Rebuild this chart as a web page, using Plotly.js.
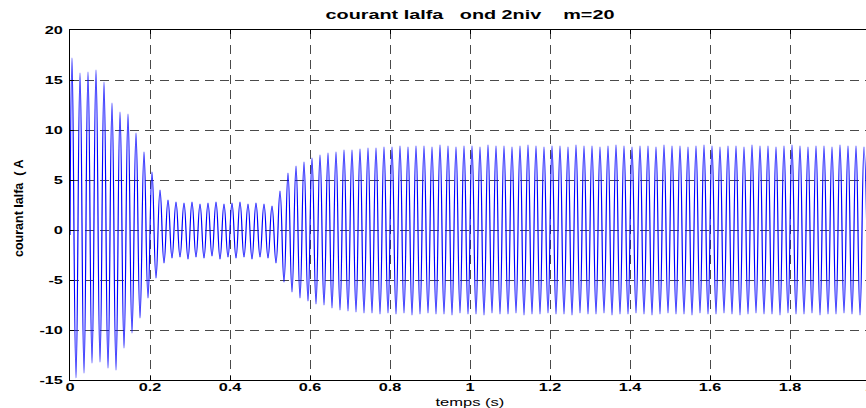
<!DOCTYPE html>
<html>
<head>
<meta charset="utf-8">
<script src="https://cdn.plot.ly/plotly-3.0.1.min.js"></script>
<style>
  html, body { margin: 0; padding: 0; overflow: hidden; background: #fff; }
  #chart { width: 880px; height: 408px; }
</style>
</head>
<body>
<div id="chart"></div>
<script>
// ---- data (positive and negative extremes of each cycle) ----
const startT = [0];
const startV = [-0.5];

const peakT = [
  0.005,0.025,0.045,0.065,0.085,0.105,0.125,0.145,0.165,0.185,
  0.205,0.225,0.245,0.265,0.285,0.305,0.325,0.345,0.365,0.385,
  0.405,0.425,0.445,0.465,0.485,0.505,0.525,0.545,0.565,0.585,
  0.605,0.625,0.645,0.665,0.685,0.705,0.725,0.745,0.765,0.785,
  0.805,0.825,0.845,0.865,0.885,0.905,0.925,0.945,0.965,0.985,
  1.005,1.025,1.045,1.065,1.085,1.105,1.125,1.145,1.165,1.185,
  1.205,1.225,1.245,1.265,1.285,1.305,1.325,1.345,1.365,1.385,
  1.405,1.425,1.445,1.465,1.485,1.505,1.525,1.545,1.565,1.585,
  1.605,1.625,1.645,1.665,1.685,1.705,1.725,1.745,1.765,1.785,
  1.805,1.825,1.845,1.865,1.885,1.905,1.925,1.945,1.965,1.985
];
const peakV = [
  17.2,15.7,15.8,16.0,14.8,12.7,11.8,11.6,9.7,7.8,
  5.8,4.0,3.0,2.8,2.7,2.8,2.6,2.7,2.8,2.6,
  2.7,2.8,2.6,2.7,2.6,2.4,3.9,5.7,6.4,6.8,
  7.2,7.5,7.7,7.8,8.0,8.0,8.1,8.2,8.2,8.3,
  8.3,8.4,8.3,8.4,8.4,8.3,8.5,8.4,8.3,8.4,
  8.4,8.3,8.5,8.4,8.4,8.3,8.4,8.5,8.4,8.3,
  8.4,8.4,8.3,8.5,8.4,8.4,8.3,8.4,8.5,8.4,
  8.3,8.4,8.4,8.3,8.5,8.4,8.4,8.3,8.4,8.5,
  8.4,8.3,8.4,8.4,8.3,8.5,8.4,8.4,8.3,8.4,
  8.5,8.4,8.3,8.4,8.4,8.3,8.5,8.4,8.4,8.3
];
const troughT = [
  0.015,0.035,0.055,0.075,0.095,0.115,0.135,0.155,0.175,0.195,
  0.215,0.235,0.255,0.275,0.295,0.315,0.335,0.355,0.375,0.395,
  0.415,0.435,0.455,0.475,0.495,0.515,0.535,0.555,0.575,0.595,
  0.615,0.635,0.655,0.675,0.695,0.715,0.735,0.755,0.775,0.795,
  0.815,0.835,0.855,0.875,0.895,0.915,0.935,0.955,0.975,0.995,
  1.015,1.035,1.055,1.075,1.095,1.115,1.135,1.155,1.175,1.195,
  1.215,1.235,1.255,1.275,1.295,1.315,1.335,1.355,1.375,1.395,
  1.415,1.435,1.455,1.475,1.495,1.515,1.535,1.555,1.575,1.595,
  1.615,1.635,1.655,1.675,1.695,1.715,1.735,1.755,1.775,1.795,
  1.815,1.835,1.855,1.875,1.895,1.915,1.935,1.955,1.975,1.995
];
const troughV = [
  -14.8,-14.3,-13.3,-13.2,-13.8,-14.0,-11.8,-10.3,-8.8,-6.8,
  -4.8,-3.3,-2.8,-2.7,-2.9,-2.7,-2.8,-2.6,-2.9,-2.7,
  -2.8,-2.7,-2.9,-2.7,-2.8,-3.3,-5.2,-6.2,-6.8,-7.1,
  -7.4,-7.5,-7.8,-8.0,-8.1,-8.2,-8.3,-8.3,-8.4,-8.3,
  -8.4,-8.3,-8.5,-8.4,-8.3,-8.4,-8.4,-8.5,-8.3,-8.4,
  -8.4,-8.5,-8.3,-8.4,-8.4,-8.3,-8.5,-8.4,-8.4,-8.3,
  -8.4,-8.4,-8.5,-8.3,-8.4,-8.4,-8.3,-8.5,-8.4,-8.4,
  -8.3,-8.4,-8.5,-8.4,-8.3,-8.4,-8.4,-8.5,-8.3,-8.4,
  -8.4,-8.3,-8.4,-8.5,-8.4,-8.3,-8.4,-8.4,-8.5,-8.3,
  -8.4,-8.4,-8.3,-8.5,-8.4,-8.4,-8.3,-8.4,-8.5,-8.4
];

const xTickVals = [0, 0.2, 0.4, 0.6, 0.8, 1, 1.2, 1.4, 1.6, 1.8, 2];
const xTickText = ['0','0.2','0.4','0.6','0.8','1','1.2','1.4','1.6','1.8','2'];
const yTickVals = [-15, -10, -5, 0, 5, 10, 15, 20];
const yTickText = ['-15','-10','-5','0','5','10','15','20'];

const titleText = 'courant Ialfa\u00A0\u00A0\u00A0ond 2niv\u00A0\u00A0\u00A0\u00A0m=20';
const xLabel = 'temps (s)';
const yLabel = 'courant Ialfa\u00A0 ( A';

// ---- assemble the series in time order ----
const xs = startT.slice();
const ys = startV.slice();
for (let i = 0; i < peakT.length; i++) {
  xs.push(peakT[i]); ys.push(peakV[i]);
  xs.push(troughT[i]); ys.push(troughV[i]);
}

const FONT = '"Liberation Sans", Arial, Helvetica, sans-serif';
const gridStyle = { showgrid: true, gridcolor: '#4a4a4a', gridwidth: 1, griddash: '9px,6px' };

const layout = {
  width: 880, height: 408,
  margin: { l: 70, r: 10, t: 30, b: 28, pad: 0 },
  paper_bgcolor: '#ffffff', plot_bgcolor: '#ffffff',
  showlegend: false,
  title: {
    text: titleText,
    font: { family: FONT, size: 12, color: '#000', weight: 'bold' },
    x: 0.5, xref: 'paper', xanchor: 'center',
    y: 1, yref: 'paper', yanchor: 'bottom', pad: { b: 11 }
  },
  xaxis: Object.assign({
    range: [0, 2], tickmode: 'array', tickvals: xTickVals, ticktext: xTickText,
    ticks: 'inside', ticklen: 4, tickcolor: '#000', tickwidth: 1,
    showline: true, linecolor: '#000', linewidth: 1, mirror: 'ticks',
    zeroline: false, ticklabelstandoff: -3,
    tickfont: { family: FONT, size: 10.5, color: '#000', weight: 'bold' }
  }, gridStyle),
  yaxis: Object.assign({
    range: [-15, 20], tickmode: 'array', tickvals: yTickVals, ticktext: yTickText,
    ticks: 'inside', ticklen: 4, tickcolor: '#000', tickwidth: 1,
    showline: true, linecolor: '#000', linewidth: 1, mirror: 'ticks',
    zeroline: false, ticklabelstandoff: 4,
    tickfont: { family: FONT, size: 10.5, color: '#000', weight: 'bold' }
  }, gridStyle),
  annotations: [
    { text: xLabel, xref: 'paper', yref: 'paper', x: 0.5, y: 0, xanchor: 'center', yanchor: 'top',
      yshift: -14, showarrow: false, font: { family: FONT, size: 11, color: '#000' } },
    { text: yLabel, xref: 'paper', yref: 'paper', x: 0, y: 0.5, xanchor: 'center', yanchor: 'middle',
      xshift: -51, yshift: -4, textangle: -90, showarrow: false,
      font: { family: FONT, size: 12.5, color: '#000', weight: 'bold' } }
  ]
};

const data = [{
  type: 'scatter', mode: 'lines', x: xs, y: ys,
  line: { color: '#0000ff', width: 1.2, shape: 'spline', smoothing: 1.3 },
  hoverinfo: 'skip'
}];

Plotly.newPlot('chart', data, layout, { staticPlot: true, displayModeBar: false }).then(function () {
  // the reference text is horizontally stretched; widen glyphs accordingly
  function stretchEl(t, f) {
    const w = t.getComputedTextLength();
    if (w > 0) {
      t.setAttribute('textLength', (w * f).toFixed(1));
      t.setAttribute('lengthAdjust', 'spacingAndGlyphs');
    }
  }
  document.querySelectorAll('.xtick text, .ytick text').forEach(function (t) { stretchEl(t, 1.55); });
  document.querySelectorAll('.gtitle').forEach(function (t) { stretchEl(t, 1.65); });
  document.querySelectorAll('.annotation-text').forEach(function (t) {
    if (t.textContent === xLabel) stretchEl(t, 1.5);
  });
});
</script>
</body>
</html>
